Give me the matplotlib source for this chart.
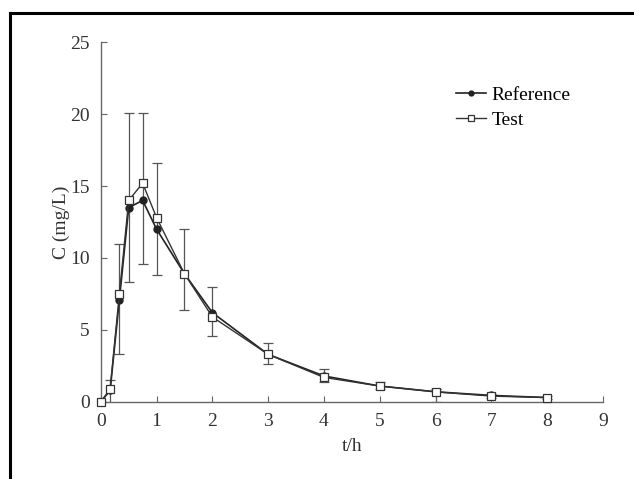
import matplotlib
matplotlib.use('Agg')
import matplotlib.pyplot as plt
from matplotlib.lines import Line2D
import numpy as np

plt.rcParams['font.family'] = ['Liberation Serif', 'DejaVu Serif']

# time points (h)
t = [0, 0.167, 0.333, 0.5, 0.75, 1, 1.5, 2, 3, 4, 5, 6, 7, 8]
# mean concentrations (mg/L)
ref_c = [0, 0.8, 7.1, 13.5, 14.0, 12.0, 8.9, 6.2, 3.3, 1.8, 1.1, 0.7, 0.45, 0.3]
test_c = [0, 0.9, 7.5, 14.0, 15.2, 12.8, 8.9, 5.9, 3.3, 1.7, 1.1, 0.7, 0.4, 0.3]
# error bar ends
bar_lo = [0, -0.2, 3.3, 8.3, 9.6, 8.8, 6.4, 4.6, 2.6, 1.4, 0.9, 0.0, 0.3, 0.2]
bar_hi = [0, 1.5, 11.0, 20.1, 20.1, 16.6, 12.0, 8.0, 4.1, 2.3, 1.4, 0.9, 0.55, 0.4]

fig = plt.figure(figsize=(6.34, 4.79), dpi=100)
ax = fig.add_axes([0.159, 0.161, 0.792, 0.751])

gray = '#555555'
test_arr = np.array(test_c)
yerr = [test_arr - np.array(bar_lo), np.array(bar_hi) - test_arr]
ax.errorbar(t, test_c, yerr=yerr, fmt='none', ecolor=gray, elinewidth=0.9,
            capsize=3.5, capthick=0.9, zorder=1)
ax.plot(t, ref_c, '-o', color='#222222', lw=1.2, ms=5, label='Reference', zorder=2,
        clip_on=False)
ax.plot(t, test_c, '-s', color='#333333', lw=1.0, ms=6, mfc='white', mec='#333333',
        mew=0.9, label='Test', zorder=3, clip_on=False)

ax.set_xlim(0, 9)
ax.set_ylim(0, 25)
ax.set_xticks(range(0, 10))
ax.set_yticks(range(0, 30, 5))
for s in ['top', 'right']:
    ax.spines[s].set_visible(False)
for s in ['left', 'bottom']:
    ax.spines[s].set_color('#666666')
    ax.spines[s].set_linewidth(1.0)
ax.tick_params(direction='in', length=4, colors='#666666', labelcolor='#333333',
               labelsize=14, pad=8)
ax.set_xlabel('t/h', fontsize=14, color='#333333', labelpad=6)
ax.set_ylabel('C (mg/L)', fontsize=14, color='#333333', labelpad=0)

ax.legend(loc='upper right', bbox_to_anchor=(0.97, 0.925), frameon=False, fontsize=14,
          handlelength=1.5, handletextpad=0.3, labelspacing=0.35, markerscale=0.7)

# outer frame
fig.add_artist(Line2D([10 / 634, 1], [1 - 13 / 479, 1 - 13 / 479], color='black', lw=2.2))
fig.add_artist(Line2D([10 / 634, 10 / 634], [0, 1 - 13 / 479], color='black', lw=2.2))

fig.savefig('out.png', dpi=100)
